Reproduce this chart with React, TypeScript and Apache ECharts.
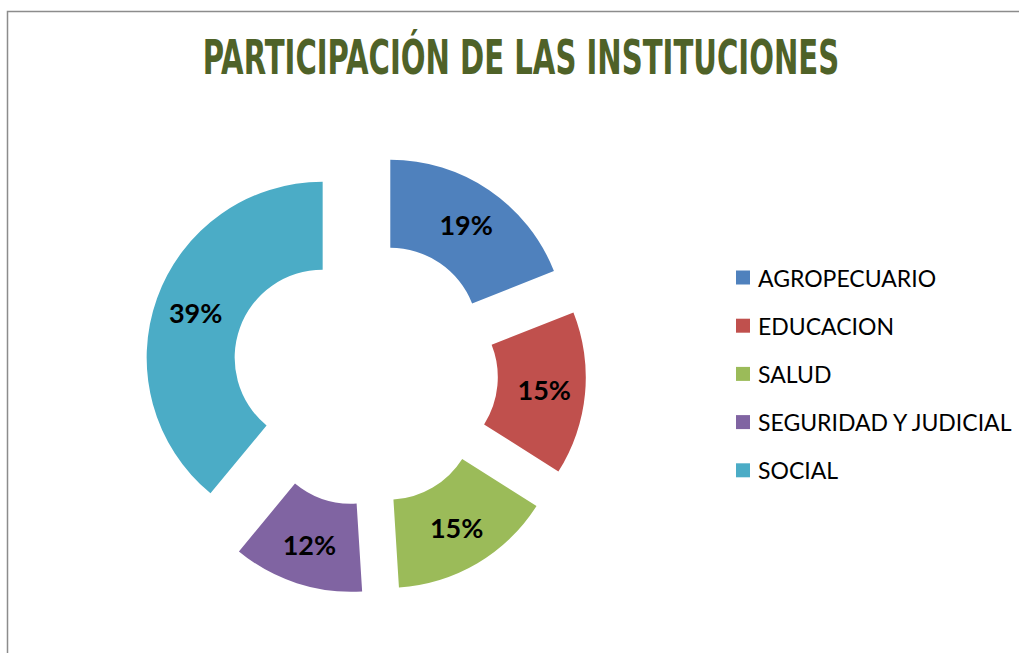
import React, { useEffect, useRef } from "react";
import * as echarts from "echarts";

const titleText = "PARTICIPACIÓN DE LAS INSTITUCIONES";
const categories = ["AGROPECUARIO", "EDUCACION", "SALUD", "SEGURIDAD Y JUDICIAL", "SOCIAL"];
const values = [19, 15, 15, 12, 39];
const colors = ["#4F81BD", "#C0504D", "#9BBB59", "#8064A2", "#4BACC6"];

const TITLE_FONT = 'bold 48px "DejaVu Sans Condensed"';

function measure(text: string, font: string): number {
  const c = document.createElement("canvas");
  const ctx = c.getContext("2d");
  if (!ctx) return 1000;
  ctx.font = font;
  return ctx.measureText(text).width;
}

export default function App() {
  const ref = useRef<HTMLDivElement>(null);

  useEffect(() => {
    if (!ref.current) return;
    const chart = echarts.init(ref.current, undefined, { renderer: "svg" });
    const w = measure(titleText, TITLE_FONT);
    const sx = 637 / w;

    chart.setOption({
      animation: false,
      backgroundColor: "#ffffff",
      graphic: [
        {
          type: "rect",
          silent: true,
          shape: { x: 7.5, y: 11.5, width: 1200, height: 1000 },
          style: { fill: "none", stroke: "#8c8c8c", lineWidth: 1.5 },
        },
        {
          type: "text",
          x: 521,
          y: 58,
          scaleX: sx,
          style: {
            text: titleText,
            font: TITLE_FONT,
            fill: "#4F6228",
            x: 0,
            y: 0,
            textAlign: "center",
            textVerticalAlign: "middle",
          },
        },
      ],
      legend: {
        orient: "vertical",
        left: 731,
        top: 261,
        padding: 5,
        itemWidth: 14,
        itemHeight: 14,
        itemGap: 25.2,
        icon: "rect",
        selectedMode: false,
        data: categories,
        textStyle: {
          fontFamily: "Lato",
          fontSize: 23,
          lineHeight: 22,
          color: "#000000",
          padding: [0, 0, 0, 3],
        },
      },
      series: [
        {
          type: "pie",
          center: [365, 373],
          radius: [88, 176],
          startAngle: 90,
          clockwise: true,
          selectedMode: "multiple",
          selectedOffset: 45,
          avoidLabelOverlap: false,
          emphasis: { disabled: true },
          label: {
            show: true,
            position: "inside",
            formatter: "{c}%",
            fontFamily: "Lato",
            fontWeight: "bold",
            fontSize: 27,
            color: "#000000",
          },
          labelLine: { show: false },
          data: categories.map((name, i) => ({
            name,
            value: values[i],
            selected: true,
            itemStyle: { color: colors[i] },
            select: { itemStyle: { color: colors[i] } },
          })),
        },
      ],
    });

    return () => chart.dispose();
  }, []);

  return (
    <div
      ref={ref}
      style={{ position: "absolute", left: 0, top: 0, width: 1019, height: 653 }}
    />
  );
}
